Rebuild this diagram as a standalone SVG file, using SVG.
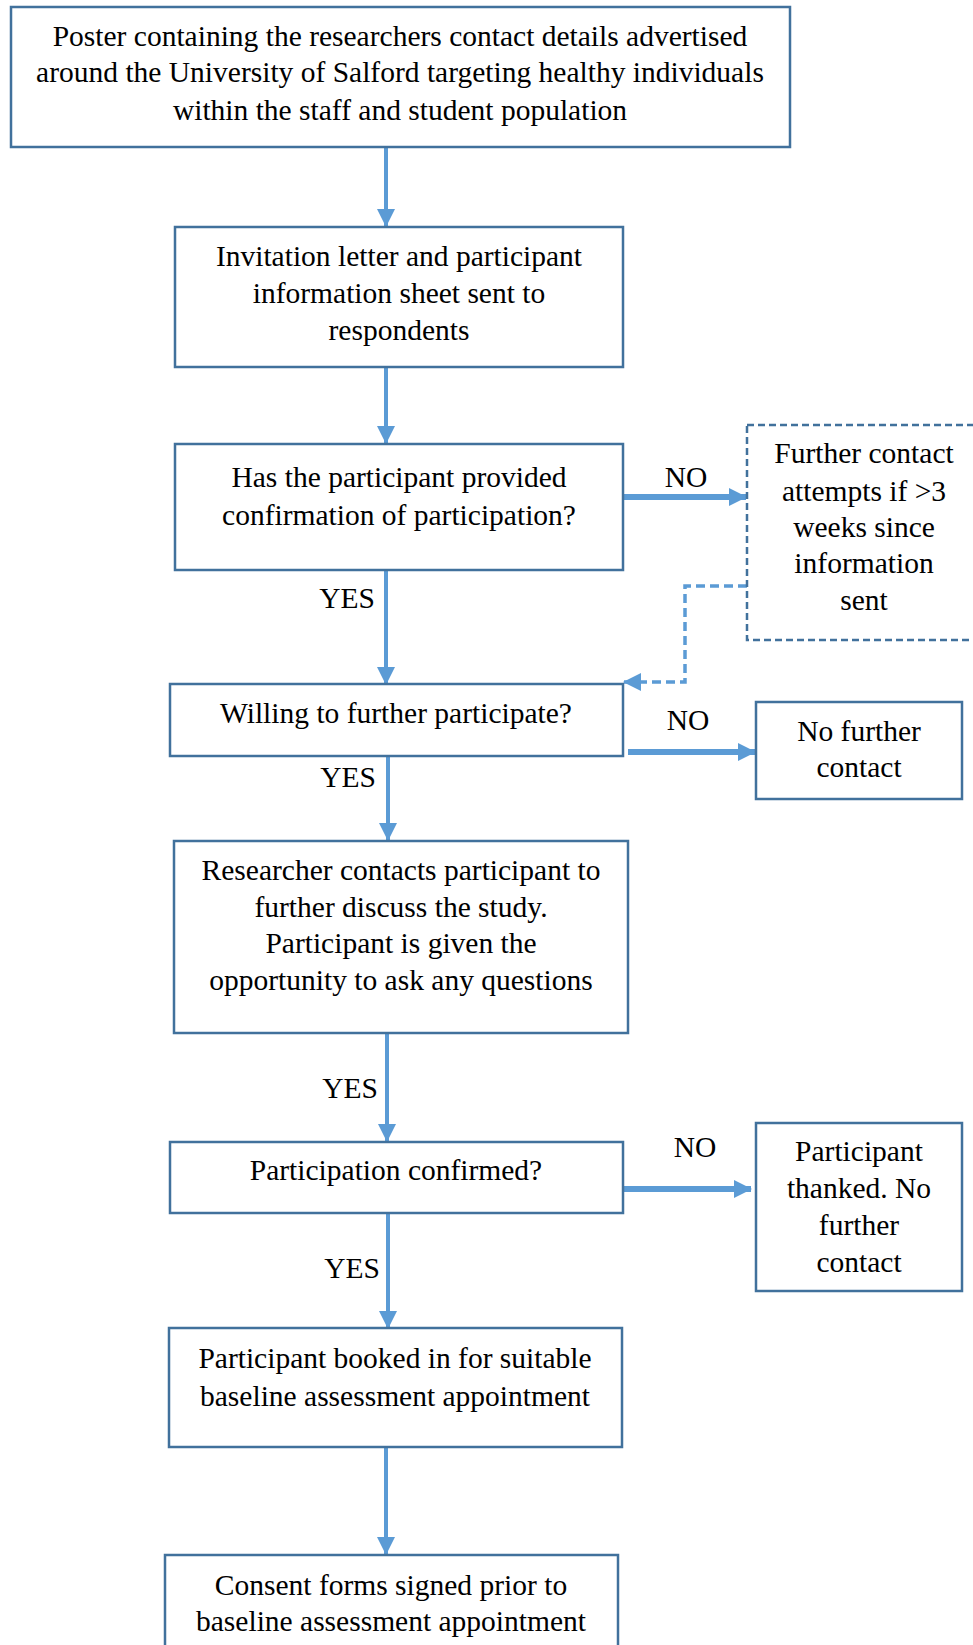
<svg xmlns="http://www.w3.org/2000/svg" width="973" height="1645" viewBox="0 0 973 1645">
<defs>
<style>
.box{fill:#fff;stroke:#41719C;stroke-width:2.5}
.dbox{fill:#fff;stroke:#41719C;stroke-width:2.5;stroke-dasharray:7,4}
.t{font-family:"Liberation Serif","Times New Roman",serif;font-size:29.5px;fill:#000;text-anchor:middle}
.c{fill:none;stroke:#5B9BD5;stroke-width:4}
.cw{fill:none;stroke:#5B9BD5;stroke-width:6}
.cd{fill:none;stroke:#5B9BD5;stroke-width:3.5;stroke-dasharray:9,5}
</style>
<marker id="ah" markerUnits="userSpaceOnUse" markerWidth="18" markerHeight="18" refX="17" refY="9" orient="auto">
<path d="M0,0 L18,9 L0,18 Z" fill="#5B9BD5"/>
</marker>
</defs>
<g id="connectors">
<line class="c" x1="386" y1="147" x2="386" y2="226" marker-end="url(#ah)"/>
<line class="c" x1="386" y1="367" x2="386" y2="443" marker-end="url(#ah)"/>
<line class="cw" x1="623" y1="497" x2="746" y2="497" marker-end="url(#ah)"/>
<line class="c" x1="386" y1="570" x2="386" y2="684" marker-end="url(#ah)"/>
<polyline class="cd" points="747,586 685,586 685,682 624,682" marker-end="url(#ah)"/>
<line class="cw" x1="628" y1="752" x2="755" y2="752" marker-end="url(#ah)"/>
<line class="c" x1="388" y1="756" x2="388" y2="840" marker-end="url(#ah)"/>
<line class="c" x1="387" y1="1033" x2="387" y2="1141" marker-end="url(#ah)"/>
<line class="cw" x1="623" y1="1189" x2="751" y2="1189" marker-end="url(#ah)"/>
<line class="c" x1="388" y1="1213" x2="388" y2="1328" marker-end="url(#ah)"/>
<line class="c" x1="386" y1="1447" x2="386" y2="1554" marker-end="url(#ah)"/>
<text class="t" x="686" y="487">NO</text>
<text class="t" x="347" y="608">YES</text>
<text class="t" x="688" y="730">NO</text>
<text class="t" x="348" y="787">YES</text>
<text class="t" x="350" y="1098">YES</text>
<text class="t" x="695" y="1157">NO</text>
<text class="t" x="352" y="1278">YES</text>
</g>
<g id="n1">
<rect class="box" x="11" y="7" width="779" height="140"/>
<text class="t" x="400" y="46">Poster containing the researchers contact details advertised</text>
<text class="t" x="400" y="82">around the University of Salford targeting healthy individuals</text>
<text class="t" x="400" y="120">within the staff and student population</text>
</g>
<g id="n2">
<rect class="box" x="175" y="227" width="448" height="140"/>
<text class="t" x="399" y="266">Invitation letter and participant</text>
<text class="t" x="399" y="303">information sheet sent to</text>
<text class="t" x="399" y="340">respondents</text>
</g>
<g id="n3">
<rect class="box" x="175" y="444" width="448" height="126"/>
<text class="t" x="399" y="487">Has the participant provided</text>
<text class="t" x="399" y="525">confirmation of participation?</text>
</g>
<g id="n4">
<rect class="dbox" x="747" y="425" width="240" height="215"/>
<text class="t" x="864" y="463">Further contact</text>
<text class="t" x="864" y="501">attempts if &gt;3</text>
<text class="t" x="864" y="537">weeks since</text>
<text class="t" x="864" y="573">information</text>
<text class="t" x="864" y="610">sent</text>
</g>
<g id="n5">
<rect class="box" x="170" y="684" width="453" height="72"/>
<text class="t" x="396" y="723">Willing to further participate?</text>
</g>
<g id="n6">
<rect class="box" x="756" y="702" width="206" height="97"/>
<text class="t" x="859" y="741">No further</text>
<text class="t" x="859" y="777">contact</text>
</g>
<g id="n7">
<rect class="box" x="174" y="841" width="454" height="192"/>
<text class="t" x="401" y="880">Researcher contacts participant to</text>
<text class="t" x="401" y="917">further discuss the study.</text>
<text class="t" x="401" y="953">Participant is given the</text>
<text class="t" x="401" y="990">opportunity to ask any questions</text>
</g>
<g id="n8">
<rect class="box" x="170" y="1142" width="453" height="71"/>
<text class="t" x="396" y="1180">Participation confirmed?</text>
</g>
<g id="n9">
<rect class="box" x="756" y="1123" width="206" height="168"/>
<text class="t" x="859" y="1161">Participant</text>
<text class="t" x="859" y="1198">thanked. No</text>
<text class="t" x="859" y="1235">further</text>
<text class="t" x="859" y="1272">contact</text>
</g>
<g id="n10">
<rect class="box" x="169" y="1328" width="453" height="119"/>
<text class="t" x="395" y="1368">Participant booked in for suitable</text>
<text class="t" x="395" y="1406">baseline assessment appointment</text>
</g>
<g id="n11">
<rect class="box" x="165" y="1555" width="453" height="100"/>
<text class="t" x="391" y="1595">Consent forms signed prior to</text>
<text class="t" x="391" y="1631">baseline assessment appointment</text>
</g>
</svg>
